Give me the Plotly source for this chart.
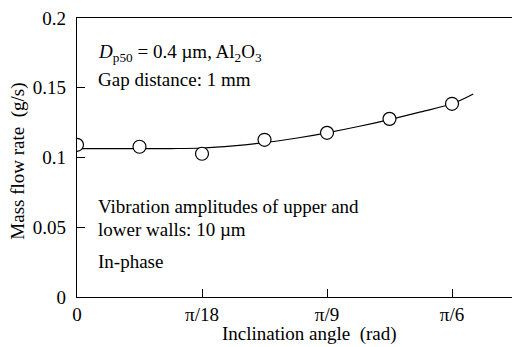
import plotly.graph_objects as go

# Measured data (inclination angle in degrees; tick labels shown in radians)
angle_deg = [0, 5, 10, 15, 20, 25, 30]
mass_flow = [0.1091, 0.1077, 0.1027, 0.1127, 0.1177, 0.1277, 0.1385]

# Fitted trend line
fit_deg = [0, 5, 7.5, 10, 12.5, 15, 17.5, 20, 22.5, 25, 27.5, 30, 31.7]
fit_flow = [0.1063, 0.1063, 0.1064, 0.1068, 0.1083, 0.1106, 0.1138, 0.1177,
            0.1222, 0.1272, 0.1327, 0.1385, 0.1455]

x_tickvals = [0, 10, 20, 30]
x_ticktext = ["0", "π/18", "π/9", "π/6"]
y_tickvals = [0, 0.05, 0.1, 0.15, 0.2]
y_ticktext = ["0", "0.05", "0.1", "0.15", "0.2"]

FONT = "Liberation Serif"
FS = 19

fig = go.Figure()
fig.add_trace(go.Scatter(x=fit_deg, y=fit_flow, mode="lines",
                         line=dict(color="black", width=1.2, shape="spline"),
                         hoverinfo="skip", showlegend=False))
fig.add_trace(go.Scatter(x=angle_deg, y=mass_flow, mode="markers",
                         marker=dict(symbol="circle", size=13, color="white",
                                     line=dict(color="black", width=1.2)),
                         showlegend=False))

fig.update_layout(
    width=512, height=347,
    margin=dict(l=77, r=0, t=18, b=50),
    paper_bgcolor="white", plot_bgcolor="white",
    font=dict(family=FONT, size=FS, color="black"),
    xaxis=dict(range=[0, 34.8], tickvals=x_tickvals, ticktext=x_ticktext,
               ticks="inside", ticklen=8, tickwidth=1, tickcolor="black",
               showline=True, linecolor="black", linewidth=1.2, mirror=True,
               showgrid=False, zeroline=False,
               tickfont=dict(family=FONT, size=FS, color="black")),
    yaxis=dict(range=[0, 0.2], tickvals=y_tickvals, ticktext=y_ticktext,
               ticks="inside", ticklen=8, tickwidth=1, tickcolor="black",
               showline=True, linecolor="black", linewidth=1.2,
               showgrid=False, zeroline=False, ticklabelstandoff=6,
               tickfont=dict(family=FONT, size=FS, color="black")),
)

texts = [
    ("<i>D</i><sub>p50</sub> = 0.4 µm, Al<sub>2</sub>O<sub>3</sub>", 0.175),
    ("Gap distance: 1 mm", 0.1556),
    ("Vibration amplitudes of upper and", 0.0648),
    ("lower walls: 10 µm", 0.0483),
    ("In-phase", 0.0254),
]
for t, yv in texts:
    fig.add_annotation(x=1.5, y=yv, xref="x", yref="y", text=t,
                       showarrow=False, xanchor="left", yanchor="middle",
                       font=dict(family=FONT, size=FS, color="black"))

fig.add_annotation(x=0.534, y=-0.134, xref="paper", yref="paper",
                   text="Inclination angle \u00a0(rad)", showarrow=False,
                   xanchor="center", yanchor="middle",
                   font=dict(family=FONT, size=FS, color="black"))
fig.add_annotation(x=-0.136, y=0.488, xref="paper", yref="paper",
                   text="Mass flow rate \u00a0(g/s)", showarrow=False,
                   textangle=-90, xanchor="center", yanchor="middle",
                   font=dict(family=FONT, size=FS, color="black"))

fig.write_html("out.html")
